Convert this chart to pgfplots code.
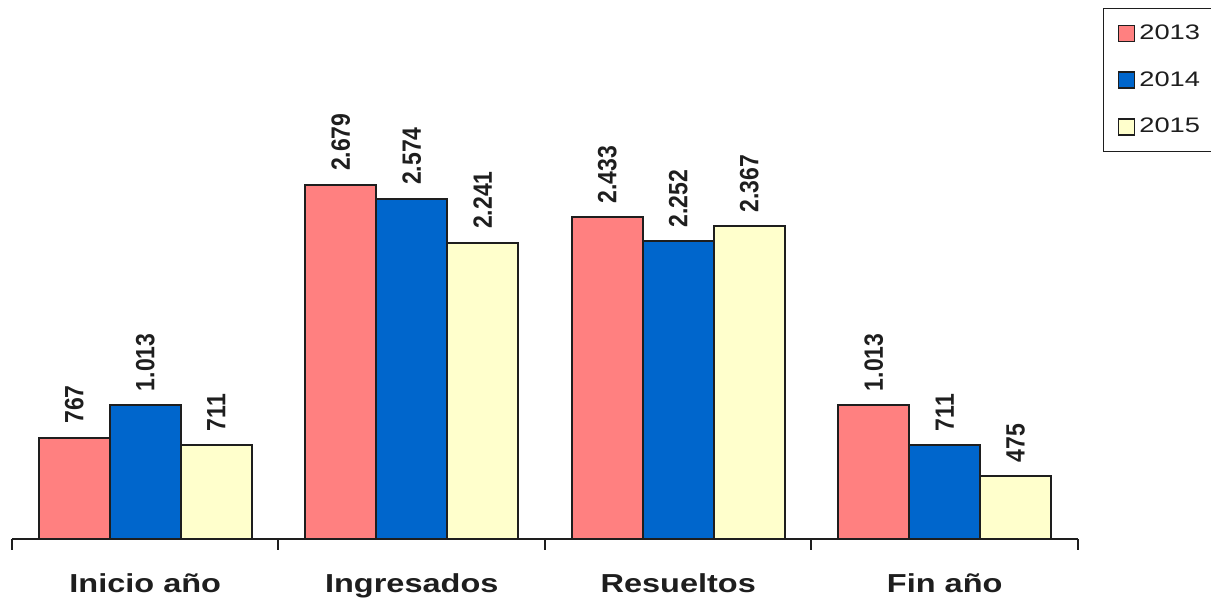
\documentclass[border=0pt]{standalone}
\usepackage{fontspec}
\setmainfont{Liberation Sans}
\newfontfamily\catfont[FakeStretch=1.25]{Liberation Sans}
\newfontfamily\legfont[FakeStretch=1.3]{Liberation Sans}
\usepackage{graphicx}
\usepackage{pgfplots}
\pgfplotsset{compat=1.18}
\definecolor{cA}{HTML}{FF8080}
\definecolor{cB}{HTML}{0066CC}
\definecolor{cC}{HTML}{FFFFCC}
\definecolor{edge}{HTML}{1E1E1E}
\begin{document}
\begin{tikzpicture}
\begin{axis}[
  at={(0,0)}, anchor=south west,
  scale only axis, width=533pt, height=269.5pt,
  xmin=-0.5, xmax=3.5, ymin=0, ymax=4079,
  ybar=0pt, bar width=35.5pt,
  axis x line=bottom, axis y line=none,
  x axis line style={-, line width=1pt, color=edge},
  xtick={0,1,2,3},
  xticklabels={Inicio año, Ingresados, Resueltos, Fin año},
  major tick length=0pt,
  xticklabel style={font=\catfont\bfseries\fontsize{13}{15}\selectfont, anchor=base, yshift=-27pt, text=edge},
  extra x ticks={-0.5,0.5,1.5,2.5,3.5},
  extra x tick labels={},
  extra x tick style={tick align=outside, major tick length=5.5pt, tick style={line width=1pt, color=edge}},
  /pgf/number format/assume math mode=true,
  /pgf/number format/1000 sep={.},
  nodes near coords={\scalebox{1}[1.15]{\pgfmathprintnumber\pgfplotspointmeta}},
  every node near coord/.append style={rotate=90, anchor=west, inner xsep=6.5pt, inner ysep=0pt, font=\bfseries\fontsize{11.5}{13}\selectfont, text=edge},
  legend style={at={(1.0235,0.985)}, anchor=north west, draw=edge, line width=0.7pt,
     font=\legfont\fontsize{10.5}{12}\selectfont, row sep=10.5pt, inner xsep=7pt, inner ysep=6pt, text=edge},
  legend cell align=left,
  legend image code/.code={\draw[#1, draw=edge, line width=0.8pt] (0pt,-4pt) rectangle (8pt,4pt);},
  every axis plot/.append style={draw=edge, line width=1pt},
]
\addplot[fill=cA] coordinates {(0,767) (1,2679) (2,2433) (3,1013)};
\addplot[fill=cB] coordinates {(0,1013) (1,2574) (2,2252) (3,711)};
\addplot[fill=cC] coordinates {(0,711) (1,2241) (2,2367) (3,475)};
\legend{2013,2014,2015}
\end{axis}
\pgfresetboundingbox
\useasboundingbox (-6pt,-29.5pt) rectangle (599.5pt,269.5pt);
\end{tikzpicture}
\end{document}
